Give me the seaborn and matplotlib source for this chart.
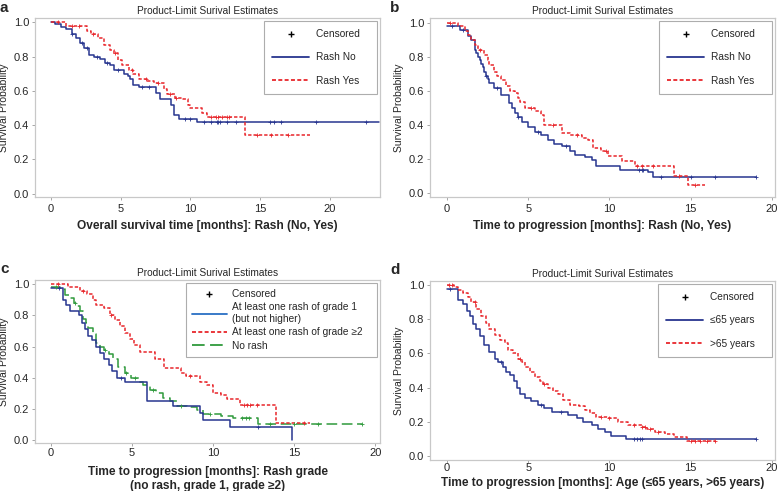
import numpy as np
import pandas as pd
import seaborn as sns
import matplotlib.pyplot as plt
from matplotlib.lines import Line2D

sns.set_style("white")
plt.rcParams['font.family'] = ['Liberation Sans', 'DejaVu Sans']

BLUE = "#27358f"
RED = "#e8262b"
GREEN = "#2f9a3c"
FRAME = "#c8c8c8"

TITLE = "Product-Limit Surival Estimates"

# a: overall survival by rash
a_no_t = [0, 0.3, 0.7, 1.1, 1.5, 1.8, 2.1, 2.4, 2.7, 3.1, 3.5, 3.9, 4.2, 4.5, 5.2, 5.5, 5.7, 5.9,
          6.3, 7.2, 7.5, 7.8, 8.6, 8.8, 9.2, 10.5, 23.5]
a_no_s = [1.0, 0.99, 0.975, 0.96, 0.93, 0.91, 0.88, 0.85, 0.81, 0.80, 0.785, 0.765, 0.75, 0.72, 0.70,
          0.685, 0.67, 0.635, 0.625, 0.62, 0.59, 0.55, 0.52, 0.46, 0.435, 0.42, 0.42]
a_no_c = [1.5, 2.2, 2.6, 3.3, 4.0, 4.8, 6.5, 7.0, 9.6, 10.0, 11.0, 11.5, 11.9, 12.0, 12.1, 12.6,
          13.3, 15.7, 16.0, 16.5, 19.0, 22.6]
a_yes_t = [0, 1.1, 2.6, 2.9, 3.4, 3.8, 4.2, 4.5, 4.8, 5.1, 5.6, 5.9, 6.3, 6.9, 7.4, 8.1, 8.3, 8.9,
           9.5, 9.8, 10.0, 10.8, 11.2, 13.95, 18.6]
a_yes_s = [1.0, 0.98, 0.95, 0.93, 0.91, 0.87, 0.84, 0.82, 0.78, 0.75, 0.72, 0.70, 0.67, 0.66, 0.645,
           0.61, 0.58, 0.56, 0.55, 0.52, 0.50, 0.47, 0.45, 0.34, 0.34]
a_yes_c = [0.5, 1.5, 2.0, 3.0, 4.6, 5.8, 6.8, 7.7, 8.5, 9.0, 11.5, 11.8, 12.0, 12.3, 12.6, 12.8,
           14.8, 15.8, 17.0]

# b: time to progression by rash
b_no_t = [0, 0.8, 1.3, 1.5, 1.7, 1.8, 1.9, 2.0, 2.1, 2.2, 2.3, 2.4, 2.5, 2.6, 2.9, 3.35, 3.8, 4.0,
          4.2, 4.4, 4.6, 5.0, 5.4, 5.8, 6.2, 6.6, 7.05, 7.6, 7.9, 8.5, 8.9, 9.2, 10.65, 12.4, 12.7, 19.0]
b_no_s = [0.98, 0.96, 0.92, 0.90, 0.84, 0.82, 0.80, 0.78, 0.76, 0.74, 0.71, 0.69, 0.67, 0.645, 0.617,
          0.576, 0.53, 0.50, 0.47, 0.445, 0.42, 0.39, 0.36, 0.34, 0.31, 0.29, 0.275, 0.246, 0.227,
          0.215, 0.195, 0.162, 0.137, 0.127, 0.098, 0.098]
b_no_c = [0.3, 1.0, 2.4, 3.1, 4.4, 5.6, 7.3, 11.8, 12.0, 12.1, 13.2, 15.0, 16.5, 19.0]
b_yes_t = [0, 0.7, 1.1, 1.3, 1.5, 1.7, 1.9, 2.3, 2.5, 2.6, 2.9, 3.1, 3.35, 3.65, 3.9, 4.2, 4.35,
           4.5, 4.8, 5.4, 5.8, 6.0, 7.05, 7.6, 8.3, 8.7, 9.0, 9.5, 9.9, 10.75, 11.6, 13.95, 14.85, 15.9]
b_yes_s = [1.0, 0.98, 0.95, 0.93, 0.90, 0.87, 0.84, 0.81, 0.78, 0.75, 0.71, 0.69, 0.664, 0.627, 0.60,
           0.586, 0.56, 0.537, 0.50, 0.48, 0.46, 0.40, 0.354, 0.344, 0.324, 0.314, 0.266, 0.246,
           0.217, 0.19, 0.158, 0.104, 0.049, 0.049]
b_yes_c = [0.2, 2.0, 5.2, 6.5, 8.0, 9.8, 11.7, 12.0, 12.7, 14.3, 15.3]

# c: time to progression by rash grade
c_g1_t = [0, 0.75, 0.95, 1.15, 1.7, 1.9, 2.1, 2.3, 2.5, 2.8, 3.0, 3.25, 3.55, 3.75, 4.05, 4.55, 5.9,
          7.55, 9.2, 9.4, 11.05, 14.85]
c_g1_s = [0.975, 0.90, 0.87, 0.83, 0.80, 0.75, 0.71, 0.67, 0.64, 0.60, 0.56, 0.52, 0.48, 0.44, 0.40,
          0.375, 0.25, 0.22, 0.17, 0.13, 0.085, 0.0]
c_g1_c = [0.5, 4.3, 12.8]
c_g2_t = [0, 1.05, 1.8, 2.2, 2.6, 2.8, 3.25, 3.65, 3.95, 4.25, 4.55, 4.9, 5.1, 5.5, 6.4, 6.95, 8.0,
          8.3, 9.2, 9.6, 10.0, 10.5, 10.85, 11.65, 13.9, 16.0]
c_g2_s = [1.0, 0.98, 0.96, 0.94, 0.90, 0.87, 0.85, 0.80, 0.77, 0.73, 0.69, 0.65, 0.61, 0.565, 0.52,
          0.46, 0.43, 0.41, 0.37, 0.355, 0.30, 0.29, 0.265, 0.225, 0.11, 0.11]
c_g2_c = [0.4, 2.0, 3.7, 8.6, 11.9, 12.1, 12.3, 12.7, 15.6]
c_no_t = [0, 0.55, 0.85, 1.15, 1.4, 1.6, 1.8, 2.0, 2.15, 2.3, 2.6, 2.8, 3.0, 3.25, 3.55, 3.85, 4.15,
          4.55, 4.95, 5.4, 5.7, 6.1, 6.5, 6.9, 7.35, 7.75, 8.4, 9.0, 9.4, 10.5, 11.25, 12.8, 19.2]
c_no_s = [0.98, 0.97, 0.93, 0.91, 0.88, 0.86, 0.83, 0.78, 0.75, 0.72, 0.68, 0.62, 0.60, 0.58, 0.55,
          0.52, 0.47, 0.43, 0.40, 0.375, 0.35, 0.32, 0.30, 0.27, 0.25, 0.22, 0.21, 0.19, 0.165,
          0.155, 0.14, 0.10, 0.10]
c_no_c = [0.3, 1.5, 3.3, 4.6, 5.2, 6.3, 8.0, 9.8, 11.8, 12.0, 12.2, 13.5, 15.0, 16.5, 19.2]

# d: time to progression by age
d_y_t = [0, 0.7, 1.0, 1.2, 1.4, 1.6, 1.8, 2.0, 2.3, 2.6, 2.95, 3.15, 3.45, 3.65, 3.85, 4.1, 4.3,
         4.5, 4.8, 5.2, 5.6, 6.0, 6.45, 7.45, 8.0, 8.4, 8.9, 9.3, 9.7, 10.1, 10.5, 11.0, 19.0]
d_y_s = [0.975, 0.91, 0.89, 0.85, 0.82, 0.77, 0.74, 0.70, 0.65, 0.61, 0.57, 0.55, 0.52, 0.49, 0.475,
         0.44, 0.40, 0.36, 0.34, 0.32, 0.30, 0.28, 0.26, 0.24, 0.22, 0.20, 0.18, 0.16, 0.14, 0.12,
         0.115, 0.10, 0.10]
d_y_c = [0.2, 3.3, 5.8, 7.0, 11.5, 11.7, 11.9, 12.0, 19.0]
d_o_t = [0, 0.4, 0.7, 1.0, 1.3, 1.5, 1.8, 2.1, 2.4, 2.6, 2.95, 3.25, 3.55, 3.75, 4.05, 4.4, 4.6, 4.8,
         5.1, 5.4, 5.7, 5.9, 6.2, 6.55, 6.85, 7.15, 7.55, 8.1, 8.5, 8.8, 9.2, 9.9, 10.55, 11.15, 12.0,
         12.3, 12.8, 13.4, 13.95, 14.75, 16.5]
d_o_s = [1.0, 0.99, 0.97, 0.95, 0.93, 0.90, 0.86, 0.82, 0.78, 0.74, 0.71, 0.68, 0.66, 0.62, 0.60,
         0.57, 0.55, 0.52, 0.49, 0.46, 0.44, 0.42, 0.40, 0.38, 0.36, 0.33, 0.30, 0.29, 0.27, 0.25,
         0.23, 0.22, 0.20, 0.18, 0.17, 0.16, 0.14, 0.13, 0.11, 0.09, 0.09]
d_o_c = [0.1, 0.3, 1.7, 4.5, 6.0, 9.5, 10.0, 11.5, 12.0, 12.2, 12.5, 13.0, 15.0, 15.3, 15.6, 16.0, 16.5]


def km(ax, t, s, cens, color, dash):
    df = pd.DataFrame({"time": t, "surv": s})
    sns.lineplot(data=df, x="time", y="surv", ax=ax, color=color, linewidth=1.1,
                 drawstyle="steps-post", estimator=None, dashes=False, linestyle=dash)
    t = np.array(t)
    s = np.array(s)
    idx = np.searchsorted(t, cens, side="right") - 1
    cdf = pd.DataFrame({"time": cens, "surv": s[idx]})
    sns.scatterplot(data=cdf, x="time", y="surv", ax=ax, marker="+", color=color,
                    s=11, linewidth=0.6, zorder=3)


def style(ax, xlim, ylim, xlabel, xpad, label_y):
    ax.set_xlim(*xlim)
    ax.set_ylim(*ylim)
    ax.set_xticks([0, 5, 10, 15, 20])
    ax.set_yticks([0.0, 0.2, 0.4, 0.6, 0.8, 1.0])
    ax.set_yticklabels(["0.0", "0.2", "0.4", "0.6", "0.8", "1.0"])
    ax.tick_params(labelsize=8, length=2, width=0.6, color="#999999",
                   bottom=True, left=True)
    ax.tick_params(axis="y", pad=2.3)
    ax.tick_params(axis="x", pad=xpad)
    for sp in ax.spines.values():
        sp.set_color(FRAME)
        sp.set_linewidth(0.9)
    ax.set_title(TITLE, fontsize=7.3, pad=3)
    ax.set_ylabel("Survival Probability", fontsize=7.5, labelpad=3)
    ax.set_xlabel(xlabel, fontsize=8.6, fontweight="bold", linespacing=1.15)
    ax.xaxis.label.set_va("center")
    ax.xaxis.set_label_coords(0.5, label_y)


def legend(ax, labels, colors, dashes, **kw):
    handles = [Line2D([], [], marker="+", color="black", linestyle="none", markersize=5)]
    for c, d in zip(colors, dashes):
        handles.append(Line2D([], [], color=c, linestyle=d, linewidth=1.3))
    # trailing spaces widen the box on the right like the original legend
    lab = [x + "   " for x in ["Censored"] + labels]
    leg = ax.legend(handles, lab, loc="upper right", fontsize=7.3, frameon=True,
                    fancybox=False, edgecolor="#999999", **kw)
    leg.get_frame().set_linewidth(0.8)


RDASH = (0, (2.2, 1.3))
GDASH = (0, (7, 3))

fig = plt.figure(figsize=(7.78, 4.91), dpi=100)
W, H = 778, 491


def axes_px(l, r, t, b):
    return fig.add_axes([l / W, 1 - b / H, (r - l) / W, (b - t) / H])


wide = dict(labelspacing=1.3, handlelength=3.65, borderpad=0.8, handletextpad=0.7,
            borderaxespad=0.3)

axa = axes_px(35, 380, 18, 197)
km(axa, a_no_t, a_no_s, a_no_c, BLUE, "-")
km(axa, a_yes_t, a_yes_s, a_yes_c, RED, RDASH)
style(axa, (-1.15, 23.6), (-0.02, 1.026), "Overall survival time [months]: Rash (No, Yes)",
      3.2, -29 / 179)
legend(axa, ["Rash No", "Rash Yes"], [BLUE, RED], ["-", RDASH], **wide)

axb = axes_px(430, 775, 18, 197)
km(axb, b_no_t, b_no_s, b_no_c, BLUE, "-")
km(axb, b_yes_t, b_yes_s, b_yes_c, RED, RDASH)
style(axb, (-1.05, 20.2), (-0.022, 1.028), "Time to progression [months]: Rash (No, Yes)",
      3.2, -29 / 179)
legend(axb, ["Rash No", "Rash Yes"], [BLUE, RED], ["-", RDASH], **wide)

axc = axes_px(35, 380, 280, 443)
km(axc, c_no_t, c_no_s, c_no_c, GREEN, GDASH)
km(axc, c_g2_t, c_g2_s, c_g2_c, RED, RDASH)
km(axc, c_g1_t, c_g1_s, c_g1_c, BLUE, "-")
style(axc, (-0.99, 20.3), (-0.02, 1.028),
      "Time to progression [months]: Rash grade\n(no rash, grade 1, grade \u22652)",
      1.6, -36 / 163)
legend(axc, ["At least one rash of grade 1\n(but not higher)", "At least one rash of grade \u22652",
             "No rash"], ["#2a6fc4", RED, GREEN], ["-", RDASH, GDASH],
       labelspacing=0.33, handlelength=3.4, borderpad=0.6, handletextpad=0.5, borderaxespad=0.3)

axd = axes_px(430, 775, 281, 460)
km(axd, d_y_t, d_y_s, d_y_c, BLUE, "-")
km(axd, d_o_t, d_o_s, d_o_c, RED, RDASH)
style(axd, (-1.05, 20.2), (-0.023, 1.023),
      "Time to progression [months]: Age (\u226465 years, >65 years)",
      0.4, -23 / 179)
legend(axd, ["\u226465 years", ">65 years"], [BLUE, RED], ["-", RDASH], **wide)

for lab, x, y in [("a", 0, 8), ("b", 390, 8), ("c", 0, 269), ("d", 390, 270)]:
    fig.text(x / W, 1 - y / H, lab, fontsize=11, fontweight="bold", va="center", ha="left")

fig.savefig("out.png", dpi=100)
